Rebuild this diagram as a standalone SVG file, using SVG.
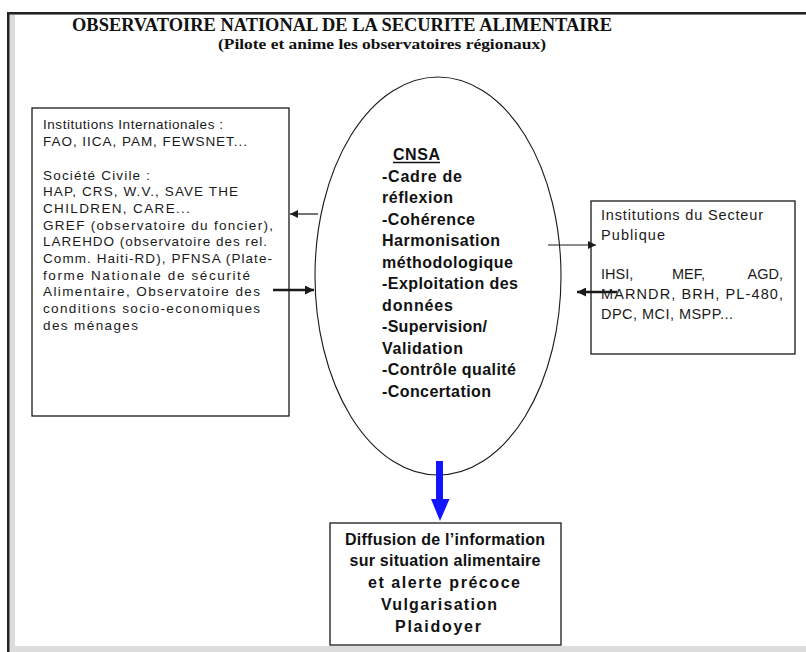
<svg xmlns="http://www.w3.org/2000/svg" width="806" height="652" viewBox="0 0 806 652">
<style>
.box{fill:#fff;stroke:#1a1a1a;stroke-width:1.3}
.ttl{font-family:"Liberation Serif",serif;font-weight:bold;fill:#111}
.reg{font-family:"Liberation Sans",Arial,sans-serif;fill:#1a1a1a}
.bld{font-family:"Liberation Sans",Arial,sans-serif;font-weight:bold;fill:#111}
.thin{stroke:#1a1a1a;stroke-width:1.2;fill:none}
.thick{stroke:#1a1a1a;stroke-width:2.4;fill:none}
</style>
<defs>
<marker id="ah" viewBox="0 0 10 10" refX="10" refY="5" markerWidth="9" markerHeight="8" markerUnits="userSpaceOnUse" orient="auto">
<path d="M0,0 L10,5 L0,10 Z" fill="#1a1a1a"/>
</marker>
<marker id="ahb" viewBox="0 0 10 10" refX="10" refY="5" markerWidth="10" markerHeight="9" markerUnits="userSpaceOnUse" orient="auto">
<path d="M0,0 L10,5 L0,10 Z" fill="#1a1a1a"/>
</marker>
</defs>
<rect x="0" y="0" width="806" height="652" fill="#fff"/>
<g id="frame">
<rect x="9" y="14" width="797" height="638" fill="#dcdcdc"/>
<rect x="15" y="15" width="791" height="631" fill="#fff"/>
<rect x="7" y="12" width="799" height="2.5" fill="#222"/>
<rect x="7" y="12" width="2.5" height="640" fill="#222"/>
</g>
<g id="title">
<text class="ttl" x="72" y="30.5" font-size="19" textLength="540" lengthAdjust="spacingAndGlyphs">OBSERVATOIRE NATIONAL DE LA SECURITE ALIMENTAIRE</text>
<text class="ttl" x="218" y="49" font-size="14.5" textLength="328" lengthAdjust="spacingAndGlyphs">(Pilote et anime les observatoires régionaux)</text>
</g>
<g id="intl">
<rect class="box" x="32" y="108" width="257" height="308"/>
<g class="reg" font-size="13.5">
<text x="43" y="129" textLength="180" lengthAdjust="spacing">Institutions Internationales :</text>
<text x="43" y="145.5" textLength="204" lengthAdjust="spacing">FAO, IICA, PAM, FEWSNET...</text>
<text x="43" y="179.5" textLength="107" lengthAdjust="spacing">Société Civile :</text>
<text x="43" y="196" textLength="195" lengthAdjust="spacing">HAP, CRS, W.V., SAVE THE</text>
<text x="43" y="212.5" textLength="147" lengthAdjust="spacing">CHILDREN, CARE...</text>
<text x="43" y="229.5" textLength="230" lengthAdjust="spacing">GREF (observatoire du foncier),</text>
<text x="43" y="246" textLength="224" lengthAdjust="spacing">LAREHDO (observatoire des rel.</text>
<text x="43" y="262.5" textLength="229" lengthAdjust="spacing">Comm. Haiti-RD), PFNSA (Plate-</text>
<text x="43" y="279.5" textLength="207" lengthAdjust="spacing">forme Nationale de sécurité</text>
<text x="43" y="296" textLength="217" lengthAdjust="spacing">Alimentaire, Observatoire des</text>
<text x="43" y="312.5" textLength="217" lengthAdjust="spacing">conditions socio-economiques</text>
<text x="43" y="329.5" textLength="95" lengthAdjust="spacing">des ménages</text>
</g>
</g>
<g id="cnsa">
<ellipse cx="438" cy="276" rx="123" ry="199" fill="#fff" stroke="#1a1a1a" stroke-width="1.1"/>
<g class="bld" font-size="16">
<text x="393" y="160" textLength="47" lengthAdjust="spacing">CNSA</text>
<line x1="393" y1="162.5" x2="440" y2="162.5" stroke="#111" stroke-width="1.5"/>
<text x="382" y="181.5" textLength="80" lengthAdjust="spacing">-Cadre de</text>
<text x="382" y="203" textLength="71" lengthAdjust="spacing">réflexion</text>
<text x="382" y="224.5" textLength="93" lengthAdjust="spacing">-Cohérence</text>
<text x="382" y="246" textLength="118" lengthAdjust="spacing">Harmonisation</text>
<text x="382" y="267.5" textLength="131" lengthAdjust="spacing">méthodologique</text>
<text x="382" y="289" textLength="136" lengthAdjust="spacing">-Exploitation des</text>
<text x="382" y="310.5" textLength="71" lengthAdjust="spacing">données</text>
<text x="382" y="332" textLength="105" lengthAdjust="spacing">-Supervision/</text>
<text x="382" y="353.5" textLength="81" lengthAdjust="spacing">Validation</text>
<text x="382" y="375" textLength="134" lengthAdjust="spacing">-Contrôle qualité</text>
<text x="382" y="396.5" textLength="109" lengthAdjust="spacing">-Concertation</text>
</g>
</g>
<g id="public">
<rect class="box" x="591" y="201" width="204" height="153"/>
<g class="reg" font-size="14.5">
<text x="601" y="220" textLength="162" lengthAdjust="spacing">Institutions du Secteur</text>
<text x="601" y="240" textLength="64" lengthAdjust="spacing">Publique</text>
<text x="601" y="279">IHSI,</text>
<text x="672" y="279">MEF,</text>
<text x="783" y="279" text-anchor="end">AGD,</text>
<text x="601" y="299" textLength="182" lengthAdjust="spacing">MARNDR, BRH, PL-480,</text>
<text x="601" y="318.5" textLength="132" lengthAdjust="spacing">DPC, MCI, MSPP...</text>
</g>
</g>
<g id="diffusion">
<rect class="box" x="330" y="523" width="231" height="122"/>
<g class="bld" font-size="16" text-anchor="middle">
<text x="445" y="544.5" textLength="200" lengthAdjust="spacing">Diffusion de l’information</text>
<text x="445" y="566" textLength="191" lengthAdjust="spacing">sur situation alimentaire</text>
<text x="444" y="588" textLength="152" lengthAdjust="spacing">et alerte précoce</text>
<text x="439" y="610" textLength="116" lengthAdjust="spacing">Vulgarisation</text>
<text x="438" y="631.5" textLength="86" lengthAdjust="spacing">Plaidoyer</text>
</g>
</g>
<g id="connectors">
<line class="thin" x1="318" y1="214" x2="290" y2="214" marker-end="url(#ah)"/>
<line class="thick" x1="273" y1="290" x2="314" y2="290" marker-end="url(#ahb)"/>
<line class="thin" x1="548" y1="245" x2="596" y2="245" marker-end="url(#ah)"/>
<line class="thick" x1="617" y1="292" x2="577" y2="292" marker-end="url(#ahb)"/>
<path d="M436,461 H443 V499 H449.5 L440,521 L431,499 H436 Z" fill="#1414ff"/>
</g>
</svg>
